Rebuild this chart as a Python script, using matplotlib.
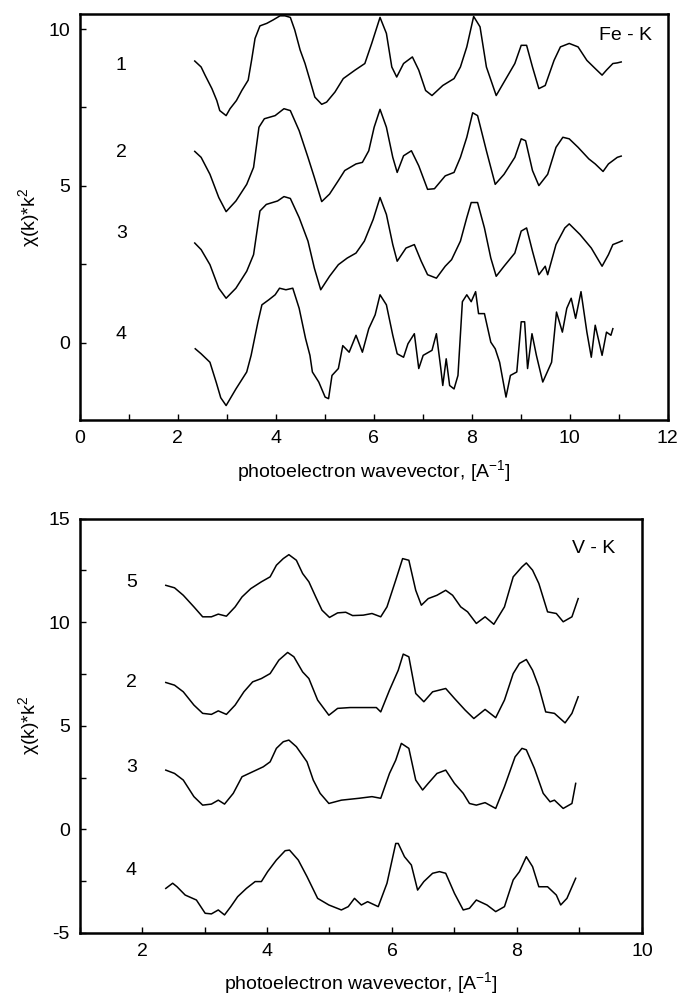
import matplotlib
matplotlib.use("Agg")
import matplotlib.pyplot as plt
from matplotlib.ticker import MultipleLocator

plt.rcParams['font.family'] = ['Liberation Sans', 'DejaVu Sans']
plt.rcParams['axes.unicode_minus'] = False

# Fe - K edge, curves 1..4 (k in 1/A, chi*k^2 with offsets)
fe1_k = [2.35, 2.48, 2.56, 2.70, 2.80, 2.86, 2.99, 3.07, 3.20, 3.31, 3.44, 3.51, 3.58, 3.68, 3.82, 3.95,
         4.09, 4.19, 4.30, 4.39, 4.50, 4.60, 4.70, 4.80, 4.94, 5.04, 5.21, 5.38, 5.62, 5.82, 5.96, 6.13,
         6.26, 6.37, 6.47, 6.61, 6.79, 6.92, 7.06, 7.19, 7.41, 7.64, 7.77, 7.90, 8.04, 8.17, 8.30, 8.50,
         8.66, 8.88, 9.01, 9.12, 9.24, 9.37, 9.50, 9.68, 9.81, 9.99, 10.17, 10.35, 10.52, 10.66, 10.75,
         10.88, 10.97, 11.05]
fe1_chi = [8.98, 8.79, 8.53, 8.10, 7.72, 7.40, 7.24, 7.46, 7.72, 8.04, 8.37, 9.01, 9.70, 10.10, 10.18, 10.29,
           10.42, 10.42, 10.37, 9.97, 9.33, 8.90, 8.37, 7.83, 7.60, 7.67, 7.99, 8.42, 8.69, 8.90, 9.54, 10.37,
           9.86, 8.79, 8.47, 8.90, 9.11, 8.69, 8.04, 7.88, 8.20, 8.42, 8.79, 9.43, 10.40, 10.07, 8.79, 7.88,
           8.31, 8.90, 9.48, 9.48, 8.79, 8.10, 8.20, 9.00, 9.43, 9.54, 9.43, 9.00, 8.74, 8.53, 8.69,
           8.90, 8.92, 8.95]

fe2_k = [2.35, 2.48, 2.66, 2.84, 2.99, 3.19, 3.41, 3.55, 3.66, 3.77, 3.99, 4.17, 4.30, 4.48, 4.66, 4.79,
         4.94, 5.10, 5.28, 5.41, 5.64, 5.77, 5.90, 6.01, 6.13, 6.26, 6.39, 6.48, 6.61, 6.77, 6.92, 7.10,
         7.24, 7.46, 7.64, 7.77, 7.90, 8.02, 8.12, 8.30, 8.48, 8.66, 8.88, 9.01, 9.10, 9.24, 9.37, 9.55,
         9.72, 9.86, 9.99, 10.17, 10.39, 10.52, 10.68, 10.79, 10.97, 11.05]
fe2_chi = [6.10, 5.91, 5.37, 4.63, 4.18, 4.52, 5.05, 5.59, 6.87, 7.14, 7.24, 7.46, 7.40, 6.76, 5.91, 5.27,
           4.50, 4.74, 5.17, 5.49, 5.70, 5.75, 6.12, 6.87, 7.44, 6.87, 5.91, 5.43, 5.96, 6.12, 5.64, 4.89,
           4.91, 5.32, 5.43, 5.91, 6.55, 7.33, 7.24, 6.12, 5.05, 5.37, 5.91, 6.50, 6.44, 5.49, 5.01, 5.37,
           6.23, 6.55, 6.50, 6.23, 5.86, 5.70, 5.46, 5.70, 5.91, 5.95]

fe3_k = [2.35, 2.48, 2.66, 2.84, 2.99, 3.19, 3.41, 3.55, 3.68, 3.81, 4.04, 4.17, 4.30, 4.48, 4.66, 4.79,
         4.92, 5.10, 5.28, 5.46, 5.64, 5.81, 5.99, 6.13, 6.26, 6.39, 6.48, 6.66, 6.83, 6.97, 7.10, 7.28,
         7.46, 7.59, 7.77, 7.90, 7.99, 8.12, 8.26, 8.39, 8.50, 8.66, 8.88, 9.01, 9.12, 9.24, 9.37, 9.50,
         9.55, 9.72, 9.90, 9.99, 10.21, 10.44, 10.66, 10.79, 10.88, 11.01, 11.07]
fe3_chi = [3.18, 2.97, 2.49, 1.74, 1.42, 1.74, 2.28, 2.81, 4.20, 4.41, 4.52, 4.66, 4.60, 3.99, 3.24, 2.38,
           1.69, 2.12, 2.49, 2.70, 2.86, 3.24, 3.93, 4.63, 4.09, 3.13, 2.60, 3.02, 3.13, 2.60, 2.17, 2.06,
           2.44, 2.65, 3.24, 3.99, 4.47, 4.47, 3.66, 2.70, 2.12, 2.44, 2.86, 3.56, 3.66, 2.92, 2.17, 2.44,
           2.17, 3.13, 3.66, 3.79, 3.45, 3.02, 2.44, 2.81, 3.13, 3.21, 3.25]

fe4_k = [2.36, 2.48, 2.66, 2.79, 2.88, 2.99, 3.19, 3.41, 3.50, 3.64, 3.72, 3.86, 3.99, 4.08, 4.21, 4.35,
         4.48, 4.61, 4.70, 4.75, 4.88, 5.01, 5.08, 5.15, 5.28, 5.37, 5.50, 5.64, 5.77, 5.90, 6.03, 6.13,
         6.26, 6.39, 6.48, 6.61, 6.70, 6.83, 6.92, 7.01, 7.19, 7.28, 7.37, 7.41, 7.48, 7.55, 7.64, 7.72,
         7.81, 7.90, 7.99, 8.08, 8.14, 8.26, 8.39, 8.48, 8.57, 8.70, 8.79, 8.92, 9.01, 9.08, 9.14, 9.23,
         9.32, 9.45, 9.63, 9.73, 9.85, 9.94, 10.03, 10.12, 10.23, 10.35, 10.44, 10.52, 10.66, 10.75, 10.84,
         10.88]
fe4_chi = [-0.19, -0.35, -0.62, -1.27, -1.75, -2.00, -1.47, -0.93, -0.40, 0.67, 1.21, 1.37, 1.53, 1.74, 1.69, 1.74,
           1.10, 0.14, -0.40, -0.93, -1.25, -1.73, -1.78, -1.04, -0.82, -0.09, -0.30, 0.24, -0.30, 0.45, 0.89, 1.53,
           1.21, 0.24, -0.35, -0.46, -0.03, 0.29, -0.82, -0.40, -0.24, 0.29, -0.82, -1.36, -0.51, -1.36, -1.47, -1.04,
           1.31, 1.53, 1.31, 1.63, 0.93, 0.93, 0.02, -0.19, -0.62, -1.73, -1.04, -0.93, 0.67, 0.67, -0.82, 0.29,
           -0.40, -1.25, -0.62, 0.98, 0.34, 1.10, 1.42, 0.78, 1.63, 0.34, -0.46, 0.56, -0.40, 0.34, 0.24,
           0.45]

# V - K edge, curves 5, 2, 3, 4
v5_k = [2.38, 2.52, 2.66, 2.83, 2.97, 3.11, 3.22, 3.35, 3.49, 3.60, 3.74, 3.91, 4.05, 4.15, 4.26, 4.35,
        4.47, 4.57, 4.67, 4.78, 4.88, 5.00, 5.13, 5.26, 5.37, 5.54, 5.68, 5.82, 5.92, 6.06, 6.17, 6.27,
        6.38, 6.47, 6.58, 6.72, 6.86, 6.97, 7.10, 7.21, 7.35, 7.49, 7.63, 7.80, 7.94, 8.08, 8.15, 8.25,
        8.35, 8.49, 8.63, 8.74, 8.88, 8.98]
v5_chi = [11.78, 11.66, 11.30, 10.74, 10.26, 10.26, 10.39, 10.29, 10.74, 11.22, 11.62, 11.95, 12.19, 12.75, 13.07, 13.26,
          12.99, 12.35, 11.95, 11.22, 10.58, 10.23, 10.45, 10.48, 10.32, 10.34, 10.42, 10.26, 10.74, 12.03, 13.07, 12.99,
          11.54, 10.82, 11.14, 11.30, 11.54, 11.30, 10.74, 10.50, 9.94, 10.26, 9.90, 10.74, 12.19, 12.67, 12.86, 12.51,
          11.87, 10.50, 10.42, 10.02, 10.26, 11.14]

v2_k = [2.38, 2.52, 2.66, 2.83, 2.97, 3.11, 3.22, 3.35, 3.49, 3.63, 3.77, 3.91, 4.05, 4.19, 4.33, 4.43,
        4.57, 4.67, 4.81, 4.99, 5.13, 5.33, 5.54, 5.75, 5.82, 5.96, 6.10, 6.18, 6.27, 6.38, 6.51, 6.65,
        6.86, 7.00, 7.17, 7.31, 7.49, 7.66, 7.80, 7.94, 8.04, 8.15, 8.25, 8.35, 8.46, 8.60, 8.77, 8.88,
        8.98]
v2_chi = [7.09, 6.96, 6.64, 6.00, 5.60, 5.55, 5.72, 5.55, 6.00, 6.64, 7.12, 7.28, 7.52, 8.17, 8.54, 8.33,
          7.60, 7.28, 6.24, 5.51, 5.84, 5.88, 5.88, 5.88, 5.67, 6.72, 7.68, 8.46, 8.33, 6.56, 6.16, 6.64,
          6.80, 6.32, 5.76, 5.35, 5.79, 5.39, 6.24, 7.52, 8.01, 8.20, 7.68, 6.88, 5.67, 5.60, 5.14, 5.60,
          6.40]

v3_k = [2.38, 2.52, 2.66, 2.83, 2.97, 3.11, 3.22, 3.32, 3.46, 3.60, 3.77, 3.94, 4.05, 4.15, 4.26, 4.35,
        4.47, 4.64, 4.74, 4.85, 4.99, 5.19, 5.47, 5.68, 5.82, 5.96, 6.06, 6.15, 6.27, 6.38, 6.49, 6.58,
        6.72, 6.86, 7.00, 7.14, 7.24, 7.35, 7.49, 7.66, 7.80, 7.97, 8.08, 8.15, 8.28, 8.42, 8.53, 8.60,
        8.74, 8.88, 8.94]
v3_chi = [2.86, 2.70, 2.38, 1.58, 1.17, 1.22, 1.41, 1.22, 1.74, 2.54, 2.78, 3.02, 3.26, 3.91, 4.23, 4.31,
          3.99, 3.26, 2.38, 1.74, 1.25, 1.41, 1.50, 1.58, 1.50, 2.70, 3.34, 4.15, 3.91, 2.38, 1.90, 2.22,
          2.70, 2.86, 2.22, 1.74, 1.25, 1.17, 1.29, 1.01, 2.06, 3.50, 3.91, 3.84, 2.94, 1.74, 1.33, 1.41,
          1.01, 1.25, 2.22]

v4_k = [2.38, 2.49, 2.56, 2.69, 2.87, 3.01, 3.11, 3.22, 3.32, 3.42, 3.53, 3.67, 3.81, 3.91, 4.01, 4.15,
        4.29, 4.36, 4.50, 4.64, 4.81, 4.99, 5.19, 5.30, 5.40, 5.51, 5.61, 5.78, 5.92, 6.06, 6.10, 6.20,
        6.31, 6.41, 6.51, 6.65, 6.76, 6.86, 7.00, 7.14, 7.24, 7.35, 7.52, 7.66, 7.80, 7.94, 8.04, 8.15,
        8.25, 8.35, 8.49, 8.63, 8.70, 8.80, 8.94]
v4_chi = [-2.85, -2.60, -2.77, -3.17, -3.41, -4.05, -4.08, -3.89, -4.13, -3.73, -3.25, -2.85, -2.52, -2.52, -2.04, -1.48,
          -1.03, -1.00, -1.48, -2.28, -3.33, -3.65, -3.89, -3.73, -3.33, -3.65, -3.49, -3.73, -2.60, -0.68, -0.68, -1.32,
          -1.72, -2.93, -2.52, -2.12, -2.04, -2.12, -3.09, -3.89, -3.81, -3.41, -3.65, -3.97, -3.73, -2.44, -2.04, -1.32,
          -1.80, -2.77, -2.77, -3.17, -3.65, -3.33, -2.36]

fe_labels = ['1', '2', '3', '4']
fe_label_y = [8.85, 6.06, 3.49, 0.26]
v_labels = ['5', '2', '3', '4']
v_label_y = [11.9, 7.07, 2.98, -1.97]

fig = plt.figure(figsize=(6.8, 9.96), dpi=100)
ax1 = fig.add_axes([0.117, 0.578, 0.865, 0.408])
ax2 = fig.add_axes([0.117, 0.0633, 0.827, 0.416])

for k, chi in [(fe1_k, fe1_chi), (fe2_k, fe2_chi), (fe3_k, fe3_chi), (fe4_k, fe4_chi)]:
    ax1.plot(k, chi, color='black', lw=1.1)
for lab, yy in zip(fe_labels, fe_label_y):
    ax1.text(0.85, yy, lab, fontsize=14, ha='center', va='center')
ax1.text(11.67, 9.78, 'Fe - K', fontsize=14, ha='right', va='center')
ax1.set_xlim(0, 12)
ax1.set_ylim(-2.47, 10.48)
ax1.xaxis.set_major_locator(MultipleLocator(2))
ax1.xaxis.set_minor_locator(MultipleLocator(1))
ax1.yaxis.set_major_locator(MultipleLocator(5))
ax1.yaxis.set_minor_locator(MultipleLocator(2.5))

for k, chi in [(v5_k, v5_chi), (v2_k, v2_chi), (v3_k, v3_chi), (v4_k, v4_chi)]:
    ax2.plot(k, chi, color='black', lw=1.1)
for lab, yy in zip(v_labels, v_label_y):
    ax2.text(1.83, yy, lab, fontsize=14, ha='center', va='center')
ax2.text(9.22, 13.56, 'V - K', fontsize=14, ha='center', va='center')
ax2.set_xlim(1, 10)
ax2.set_ylim(-5, 15)
ax2.xaxis.set_major_locator(MultipleLocator(2))
ax2.xaxis.set_minor_locator(MultipleLocator(1))
ax2.yaxis.set_major_locator(MultipleLocator(5))
ax2.yaxis.set_minor_locator(MultipleLocator(2.5))

for ax in (ax1, ax2):
    for sp in ax.spines.values():
        sp.set_linewidth(1.8)
    ax.tick_params(which='both', direction='in', length=4, width=1, labelsize=14, pad=7)
    ax.set_xlabel('photoelectron wavevector, [A$^{\\mathregular{-1}}$]', fontsize=14, labelpad=8)
    ax.set_ylabel('χ(k)*k$^{\\mathregular{2}}$', fontsize=14, labelpad=4)

fig.savefig('out.png', dpi=100)
